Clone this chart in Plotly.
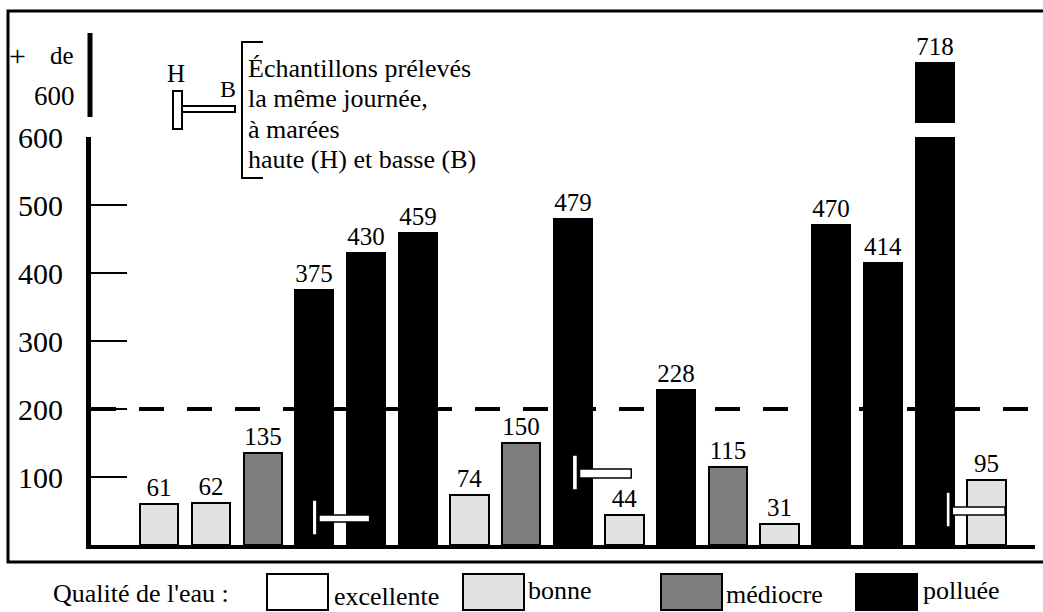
import plotly.graph_objects as go

W, H = 1043, 612

# Valeurs mesurées, dans l'ordre des prélèvements, et qualité de l'eau associée
valeurs = [61, 62, 135, 375, 430, 459, 74, 150, 479, 44, 228, 115, 31, 470, 414, 718, 95]
qualite = ["bonne", "bonne", "médiocre", "polluée", "polluée", "polluée", "bonne",
           "médiocre", "polluée", "bonne", "polluée", "médiocre", "bonne",
           "polluée", "polluée", "polluée", "bonne"]
points = list(range(len(valeurs)))

classes = ["excellente", "bonne", "médiocre", "polluée"]
graduations = [100, 200, 300, 400, 500, 600]
seuil = 200          # ligne pointillée
coupure = 600        # au-delà : partie haute de l'axe ("+ de 600")

couleurs = {"excellente": "#ffffff", "bonne": "#e2e2e2",
            "médiocre": "#7d7d7d", "polluée": "#000000"}

SERIF = "Liberation Serif, Times New Roman, DejaVu Serif, serif"


def px(x):
    return x / W


def py(y):
    return 1 - y / H


fig = go.Figure()

# Partie basse de l'axe : 0 à 600
fig.add_trace(go.Bar(
    x=points, y=valeurs, width=0.74,
    marker=dict(color=[couleurs[q] for q in qualite],
                line=dict(color="black", width=2)),
    text=[str(v) if v <= coupure else "" for v in valeurs],
    textposition="outside", constraintext="none",
    textfont=dict(family=SERIF, size=25, color="black"),
    showlegend=False, hoverinfo="skip",
))

# Partie haute (axe interrompu) : valeurs supérieures à 600
hauts = [i for i, v in enumerate(valeurs) if v > coupure]
fig.add_trace(go.Bar(
    x=[points[i] for i in hauts], y=[valeurs[i] for i in hauts], width=0.74,
    yaxis="y2",
    marker=dict(color=[couleurs[qualite[i]] for i in hauts],
                line=dict(color="black", width=2)),
    text=[str(valeurs[i]) for i in hauts],
    textposition="outside", constraintext="none",
    textfont=dict(family=SERIF, size=25, color="black"),
    showlegend=False, hoverinfo="skip",
))

shapes = []

# Seuil à 200
shapes.append(dict(type="line", xref="x domain", yref="y", x0=0, x1=1,
                   y0=seuil, y1=seuil,
                   line=dict(color="black", width=4, dash="25px,23px")))

# Repères marée haute (H) / marée basse (B) posés sur les barres
marques_maree = [
    dict(v=(2.96, 3.05, 14.7, 66.2), h=(3.09, 4.07, 33.8, 44.1)),
    dict(v=(7.99, 8.09, 80.9, 132.4), h=(8.13, 9.13, 98.5, 111.8)),
    dict(v=(15.22, 15.30, 26.5, 77.9), h=(15.34, 16.36, 44.1, 55.9)),
]
for m in marques_maree:
    for part in ("h", "v"):
        x0, x1, y0, y1 = m[part]
        shapes.append(dict(type="rect", xref="x", yref="y",
                           x0=x0, x1=x1, y0=y0, y1=y1,
                           fillcolor="white",
                           line=dict(color="black", width=1.5)))

# Cadre
shapes.append(dict(type="rect", xref="paper", yref="paper",
                   x0=px(8), x1=px(1070), y0=py(562), y1=py(11),
                   line=dict(color="black", width=3), layer="below"))

# Tronçon d'axe "+ de 600"
shapes.append(dict(type="line", xref="paper", yref="paper",
                   x0=px(90), x1=px(90), y0=py(117), y1=py(33),
                   line=dict(color="black", width=5)))

# Symbole H/B de la légende
shapes.append(dict(type="rect", xref="paper", yref="paper",
                   x0=px(182), x1=px(235), y0=py(112), y1=py(106),
                   fillcolor="white", line=dict(color="black", width=2)))
shapes.append(dict(type="rect", xref="paper", yref="paper",
                   x0=px(173), x1=px(182), y0=py(129), y1=py(91),
                   fillcolor="white", line=dict(color="black", width=2)))

# Accolade
shapes.append(dict(type="path", xref="paper", yref="paper",
                   path=(f"M {px(263)},{py(42)} L {px(242)},{py(42)} "
                         f"L {px(242)},{py(178)} L {px(263)},{py(178)}"),
                   line=dict(color="black", width=2)))

# Cases de la légende des qualités
cases = {"excellente": 267, "bonne": 463, "médiocre": 661, "polluée": 856}
for c in classes:
    x0 = cases[c]
    shapes.append(dict(type="rect", xref="paper", yref="paper",
                       x0=px(x0), x1=px(x0 + 61), y0=py(610), y1=py(574),
                       fillcolor=couleurs[c],
                       line=dict(color="black", width=2)))

annotations = []


def texte(t, x, y, size, anchor="left", vanchor="middle"):
    annotations.append(dict(text=t, xref="paper", yref="paper",
                            x=px(x), y=py(y), xanchor=anchor, yanchor=vanchor,
                            showarrow=False, borderpad=0,
                            font=dict(family=SERIF, size=size, color="black")))


texte("+", 17, 55, 30, "center")
texte("de", 62, 55, 25, "center")
texte("600", 54, 96, 27, "center")

texte("H", 176, 73, 25, "center")
texte("B", 228, 89, 24, "center")

lignes = ["Échantillons prélevés", "la même journée,", "à marées",
          "haute (H) et basse (B)"]
for k, l in enumerate(lignes):
    texte(l, 247, 68 + 30.5 * k, 26)

texte("Qualité de l'eau :", 52, 593, 26)
positions_lib = {"bonne": (527, 590), "médiocre": (725, 594),
                 "polluée": (922, 590)}
for c in classes:
    if c == "excellente":
        # posé contre le bas de la figure
        texte(c, 333, 612, 26, vanchor="bottom")
    else:
        x, y = positions_lib[c]
        texte(c, x, y, 26)

fig.update_layout(
    width=W, height=H,
    margin=dict(l=0, r=0, t=0, b=0, autoexpand=False),
    paper_bgcolor="white", plot_bgcolor="rgba(0,0,0,0)",
    bargap=0,
    xaxis=dict(domain=[px(91), px(1035)], range=[-1.32, 16.94],
               showline=True, linecolor="black", linewidth=4,
               showticklabels=False, ticks="", showgrid=False,
               zeroline=False, fixedrange=True),
    yaxis=dict(domain=[py(545), py(137)], range=[0, 600],
               showline=True, linecolor="black", linewidth=5,
               ticks="inside", ticklen=36, tickwidth=2, tickcolor="black",
               tickvals=graduations, ticklabelstandoff=17,
               tickfont=dict(family=SERIF, size=30, color="black"),
               showgrid=False, zeroline=False, fixedrange=True),
    yaxis2=dict(domain=[py(123), py(33)], range=[630, 762], anchor="x",
                visible=False, showgrid=False, zeroline=False,
                fixedrange=True),
    shapes=shapes,
    annotations=annotations,
)

fig.write_html("out.html")
